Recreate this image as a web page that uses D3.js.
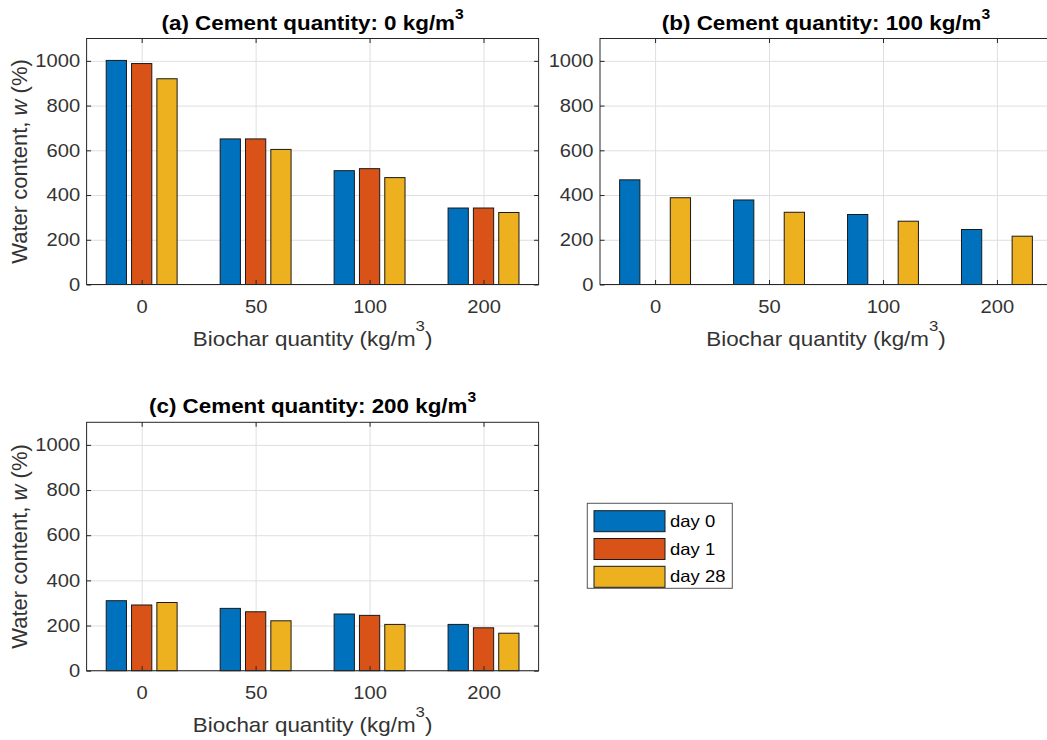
<!DOCTYPE html>
<html><head><meta charset="utf-8">
<script src="https://cdn.jsdelivr.net/npm/d3@7"></script>
<style>body{margin:0;background:#fff}</style>
</head><body><svg id="chart" width="1047" height="740"></svg>
<script>
// ---- data ----
const categories = ["0", "50", "100", "200"];
const seriesNames = ["day 0", "day 1", "day 28"];
const yTicks = [0, 200, 400, 600, 800, 1000];
const panelTitles = ["(a) Cement quantity: 0 kg/m", "(b) Cement quantity: 100 kg/m", "(c) Cement quantity: 200 kg/m"];
const a_day0 = [1002, 651, 509, 342];
const a_day1 = [988, 651, 518, 342];
const a_day28 = [920, 604, 478, 322];
const b_day0 = [468, 378, 313, 246];
const b_day1 = [null, null, null, null];
const b_day28 = [388, 323, 283, 216];
const c_day0 = [310, 276, 251, 205];
const c_day1 = [291, 261, 245, 190];
const c_day28 = [302, 221, 205, 166];
const colors = ["#0072BD", "#D95319", "#EDB120"];

const FONT = "'Liberation Sans', Arial, Helvetica, sans-serif";
const svg = d3.select("#chart");
svg.append("rect").attr("width", 1047).attr("height", 740).attr("fill", "#fff");

const panels = [
  {title: panelTitles[0], series: [a_day0, a_day1, a_day28], left: 86.6, top: 38.5, w: 452, h: 246, ylabel: true},
  {title: panelTitles[1], series: [b_day0, b_day1, b_day28], left: 600, top: 38.5, w: 452, h: 246, ylabel: false},
  {title: panelTitles[2], series: [c_day0, c_day1, c_day28], left: 86.6, top: 422.3, w: 452, h: 248.4, ylabel: true}
];

const nS = seriesNames.length;
const groupW = Math.min(0.8, nS / (nS + 1.5));
const barW = groupW / nS * 0.8;
const SX = 1.12;

function stretchText(sel, sx) {
  sel.each(function () {
    const t = d3.select(this);
    const x = +t.attr("x") || 0, y = +t.attr("y") || 0;
    t.attr("x", null).attr("y", null).attr("transform", `translate(${x},${y}) scale(${sx},1)`);
  });
}

panels.forEach(p => {
  const g = svg.append("g");
  const x = d3.scaleLinear().domain([0.5167, categories.length + 0.4833]).range([p.left, p.left + p.w]);
  const y = d3.scaleLinear().domain([0, 1100]).range([p.top + p.h, p.top]);
  const xTickVals = categories.map((c, i) => i + 1);
  const fmtX = d => categories[d - 1];

  // grid
  g.append("g").attr("transform", `translate(0,${p.top + p.h})`)
    .call(d3.axisBottom(x).tickValues(xTickVals).tickSize(-p.h).tickFormat(""))
    .call(s => s.select(".domain").remove())
    .call(s => s.selectAll("line").attr("stroke", "#dfdfdf").attr("stroke-width", 1));
  g.append("g").attr("transform", `translate(${p.left},0)`)
    .call(d3.axisLeft(y).tickValues(yTicks).tickSize(-p.w).tickFormat(""))
    .call(s => s.select(".domain").remove())
    .call(s => s.selectAll("line").attr("stroke", "#dfdfdf").attr("stroke-width", 1));

  // bars
  p.series.forEach((vals, si) => {
    const off = (si - (nS - 1) / 2) * groupW / nS;
    g.append("g").selectAll("rect")
      .data(vals.map((v, i) => ({v, i})).filter(d => d.v != null))
      .join("rect")
      .attr("x", d => x(d.i + 1 + off - barW / 2))
      .attr("width", d => x(d.i + 1 + off + barW / 2) - x(d.i + 1 + off - barW / 2))
      .attr("y", d => y(d.v))
      .attr("height", d => y(0) - y(d.v))
      .attr("fill", colors[si])
      .attr("stroke", "#1a1a1a")
      .attr("stroke-width", 1);
  });

  // box
  g.append("rect").attr("x", p.left).attr("y", p.top).attr("width", p.w).attr("height", p.h)
    .attr("fill", "none").attr("stroke", "#262626").attr("stroke-width", 1);

  const axStyle = s => {
    s.select(".domain").remove();
    s.selectAll("line").attr("stroke", "#262626");
    s.selectAll("text").attr("fill", "#333").attr("font-size", 18).attr("font-family", FONT);
  };
  // bottom axis
  const gb = g.append("g").attr("transform", `translate(0,${p.top + p.h})`)
    .call(d3.axisBottom(x).tickValues(xTickVals).tickSizeInner(-4.5).tickSizeOuter(0).tickPadding(16).tickFormat(fmtX))
    .call(axStyle);
  stretchText(gb.selectAll("text"), SX);
  // top mirrored ticks
  g.append("g").attr("transform", `translate(0,${p.top})`)
    .call(d3.axisTop(x).tickValues(xTickVals).tickSizeInner(-4.5).tickSizeOuter(0).tickFormat(""))
    .call(axStyle);
  // left axis
  const gl = g.append("g").attr("transform", `translate(${p.left},0)`)
    .call(d3.axisLeft(y).tickValues(yTicks).tickSizeInner(-4.5).tickSizeOuter(0).tickPadding(6.5).tickFormat(d3.format("d")))
    .call(axStyle);
  stretchText(gl.selectAll("text"), SX);
  // right mirrored ticks
  g.append("g").attr("transform", `translate(${p.left + p.w},0)`)
    .call(d3.axisRight(y).tickValues(yTicks).tickSizeInner(-4.5).tickSizeOuter(0).tickFormat(""))
    .call(axStyle);

  const cx = p.left + p.w / 2;
  // title
  const tt = svg.append("text")
    .attr("transform", `translate(${cx},${p.top - 9}) scale(${SX},1)`)
    .attr("text-anchor", "middle").attr("font-family", FONT).attr("font-weight", "bold")
    .attr("font-size", 20).attr("fill", "#000");
  tt.append("tspan").text(p.title);
  tt.append("tspan").attr("font-size", 14).attr("dy", -11).text("3");

  // x label
  const xl = svg.append("text")
    .attr("transform", `translate(${cx},${p.top + p.h + 61.5}) scale(${SX},1)`)
    .attr("text-anchor", "middle").attr("font-family", FONT).attr("font-size", 20).attr("fill", "#333");
  xl.append("tspan").text("Biochar quantity (kg/m");
  xl.append("tspan").attr("font-size", 15).attr("dy", -15).text("3");
  xl.append("tspan").attr("dy", 15).text(")");

  // y label
  if (p.ylabel) {
    const yl = svg.append("text")
      .attr("transform", `translate(27,${p.top + p.h / 2}) rotate(-90)`)
      .attr("text-anchor", "middle").attr("font-family", FONT).attr("font-size", 22).attr("fill", "#333");
    yl.append("tspan").text("Water content, ");
    yl.append("tspan").attr("font-style", "italic").text("w");
    yl.append("tspan").text(" (%)");
  }
});

// legend
const lg = svg.append("g");
lg.append("rect").attr("x", 587.3).attr("y", 503.3).attr("width", 145).attr("height", 85)
  .attr("fill", "#fff").attr("stroke", "#555").attr("stroke-width", 1);
seriesNames.forEach((name, i) => {
  const yy = 510.7 + i * 27.8;
  lg.append("rect").attr("x", 594).attr("y", yy).attr("width", 71).attr("height", 21)
    .attr("fill", colors[i]).attr("stroke", "#1a1a1a").attr("stroke-width", 1);
  lg.append("text").attr("transform", `translate(670,${yy + 16}) scale(${SX},1)`)
    .attr("font-family", FONT).attr("font-size", 16.5).attr("fill", "#000").text(name);
});
</script>
</body></html>
